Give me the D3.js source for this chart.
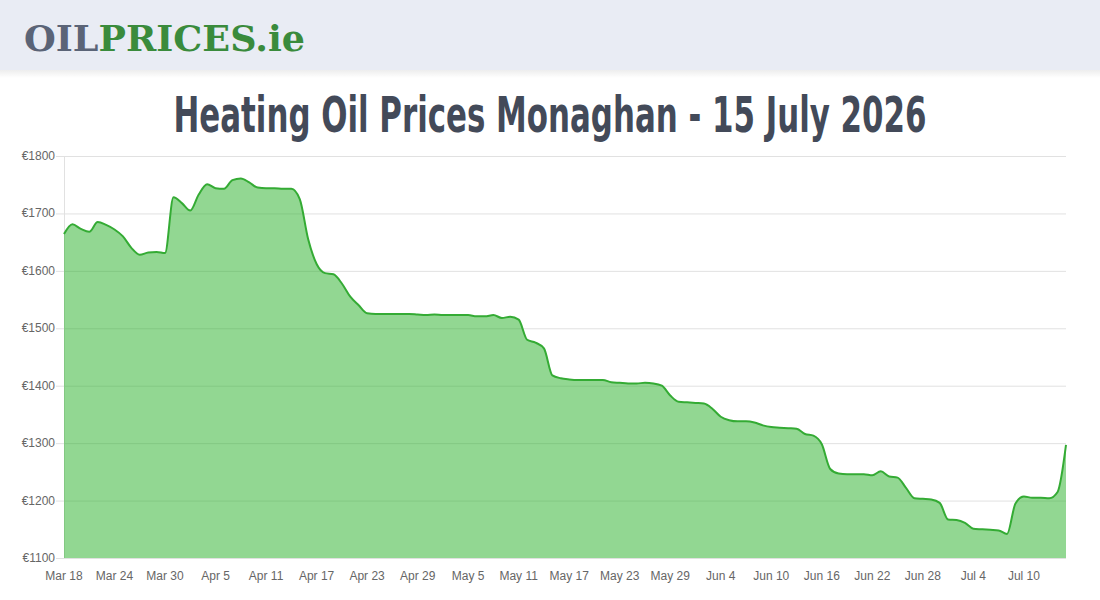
<!DOCTYPE html>
<html>
<meta charset="utf-8">
<style>
  body { margin: 0; background: #fff; }
  svg { display: block; }
</style>
<body>
<script src="https://cdn.jsdelivr.net/npm/d3@7"></script>
<div id="chart"></div>
<script>
// Chart data, one price per day starting Mar 18.
var startDate = new Date(2026, 2, 18);
var prices = [
  1664, 1681, 1673, 1668, 1685, 1680, 1672, 1660, 1640, 1628,
  1632, 1633, 1631, 1728, 1718, 1705, 1733, 1751, 1744, 1743,
  1758, 1761, 1754, 1745, 1744, 1744, 1743, 1743, 1725, 1655,
  1612, 1596, 1594, 1578, 1555, 1540, 1526, 1525, 1525, 1525,
  1525, 1525, 1524, 1523, 1524, 1523, 1523, 1523, 1523, 1521,
  1521, 1523, 1518, 1520, 1515, 1480, 1475, 1465, 1418, 1413,
  1411, 1410, 1410, 1410, 1410, 1406, 1405, 1404, 1404, 1405,
  1404, 1400, 1383, 1372, 1371, 1370, 1369, 1360, 1346, 1340,
  1338, 1338, 1336, 1331, 1328, 1327, 1326, 1325, 1316, 1313,
  1298, 1255, 1247, 1246, 1246, 1246, 1244, 1251, 1242, 1240,
  1222, 1204, 1203, 1202, 1196, 1167, 1166, 1161, 1151, 1150,
  1149, 1148, 1142, 1195, 1207, 1205, 1205, 1204, 1215, 1297
];
var yTicks = [1100, 1200, 1300, 1400, 1500, 1600, 1700, 1800];
var xTickLabels = ["Mar 18", "Mar 24", "Mar 30", "Apr 5", "Apr 11", "Apr 17", "Apr 23",
  "Apr 29", "May 5", "May 11", "May 17", "May 23", "May 29", "Jun 4", "Jun 10",
  "Jun 16", "Jun 22", "Jun 28", "Jul 4", "Jul 10"];
var titleText = "Heating Oil Prices Monaghan - 15 July 2026";

var W = 1100, H = 600;
var plotLeft = 64, plotRight = 1066, plotTop = 156, plotBottom = 558;

var data = prices.map(function(p, i) {
  return { date: d3.timeDay.offset(startDate, i), price: p };
});

var svg = d3.select("#chart").append("svg").attr("width", W).attr("height", H);

// header bar with soft shadow
var defs = svg.append("defs");
var grad = defs.append("linearGradient").attr("id", "shade").attr("x1", 0).attr("y1", 0).attr("x2", 0).attr("y2", 1);
grad.append("stop").attr("offset", "0%").attr("stop-color", "#000").attr("stop-opacity", 0.07);
grad.append("stop").attr("offset", "100%").attr("stop-color", "#000").attr("stop-opacity", 0);
svg.append("rect").attr("x", 0).attr("y", 70).attr("width", W).attr("height", 8).attr("fill", "url(#shade)");
svg.append("rect").attr("x", 0).attr("y", 0).attr("width", W).attr("height", 70).attr("fill", "#e9ecf4");

var logo = svg.append("text")
  .attr("x", 24).attr("y", 51)
  .attr("font-family", "'DejaVu Serif', serif")
  .attr("font-weight", "bold")
  .attr("font-size", 35)
  .attr("textLength", 281)
  .attr("lengthAdjust", "spacingAndGlyphs");
logo.append("tspan").attr("fill", "#5b6477").text("OIL");
logo.append("tspan").attr("fill", "#3a8b3c").text("PRICES.ie");

svg.append("text")
  .attr("x", 550).attr("y", 132)
  .attr("text-anchor", "middle")
  .attr("font-family", "'DejaVu Sans Condensed', 'Liberation Sans Narrow', sans-serif")
  .attr("font-weight", "bold")
  .attr("font-size", 50)
  .attr("fill", "#434a59")
  .attr("textLength", 753)
  .attr("lengthAdjust", "spacingAndGlyphs")
  .text(titleText);

var x = d3.scaleTime()
  .domain([data[0].date, data[data.length - 1].date])
  .range([plotLeft, plotRight]);
var y = d3.scaleLinear().domain([1100, 1800]).range([plotBottom, plotTop]);

// grid lines
svg.append("g").selectAll("line").data(yTicks).enter().append("line")
  .attr("x1", plotLeft - 8).attr("x2", plotRight)
  .attr("y1", function(d) { return y(d) + 0.5; })
  .attr("y2", function(d) { return y(d) + 0.5; })
  .attr("stroke", "#e1e1e1").attr("stroke-width", 1);
svg.append("line")
  .attr("x1", plotLeft + 0.5).attr("x2", plotLeft + 0.5)
  .attr("y1", plotTop).attr("y2", plotBottom)
  .attr("stroke", "#e1e1e1");

// y labels
svg.append("g").selectAll("text").data(yTicks).enter().append("text")
  .attr("x", plotLeft - 9).attr("y", function(d) { return y(d) + 4; })
  .attr("text-anchor", "end")
  .attr("font-family", "'Liberation Sans', Arial, sans-serif")
  .attr("font-size", 12)
  .attr("fill", "#666")
  .text(function(d) { return "€" + d; });

// x labels, one every 6 days
var xTickDates = xTickLabels.map(function(t, i) { return d3.timeDay.offset(startDate, i * 6); });
svg.append("g").selectAll("text").data(xTickDates).enter().append("text")
  .attr("x", function(d) { return x(d); })
  .attr("y", 580)
  .attr("text-anchor", "middle")
  .attr("font-family", "'Liberation Sans', Arial, sans-serif")
  .attr("font-size", 12)
  .attr("fill", "#666")
  .text(function(d, i) { return xTickLabels[i]; });

var area = d3.area()
  .x(function(d) { return x(d.date); })
  .y0(y(1100))
  .y1(function(d) { return y(d.price); })
  .curve(d3.curveMonotoneX);
var line = d3.line()
  .x(function(d) { return x(d.date); })
  .y(function(d) { return y(d.price); })
  .curve(d3.curveMonotoneX);

svg.append("path").datum(data)
  .attr("d", area)
  .attr("fill", "rgb(38,175,38)")
  .attr("fill-opacity", 0.5);
svg.append("path").datum(data)
  .attr("d", line)
  .attr("fill", "none")
  .attr("stroke", "#34ab34")
  .attr("stroke-width", 2);
</script>
</body>
</html>
